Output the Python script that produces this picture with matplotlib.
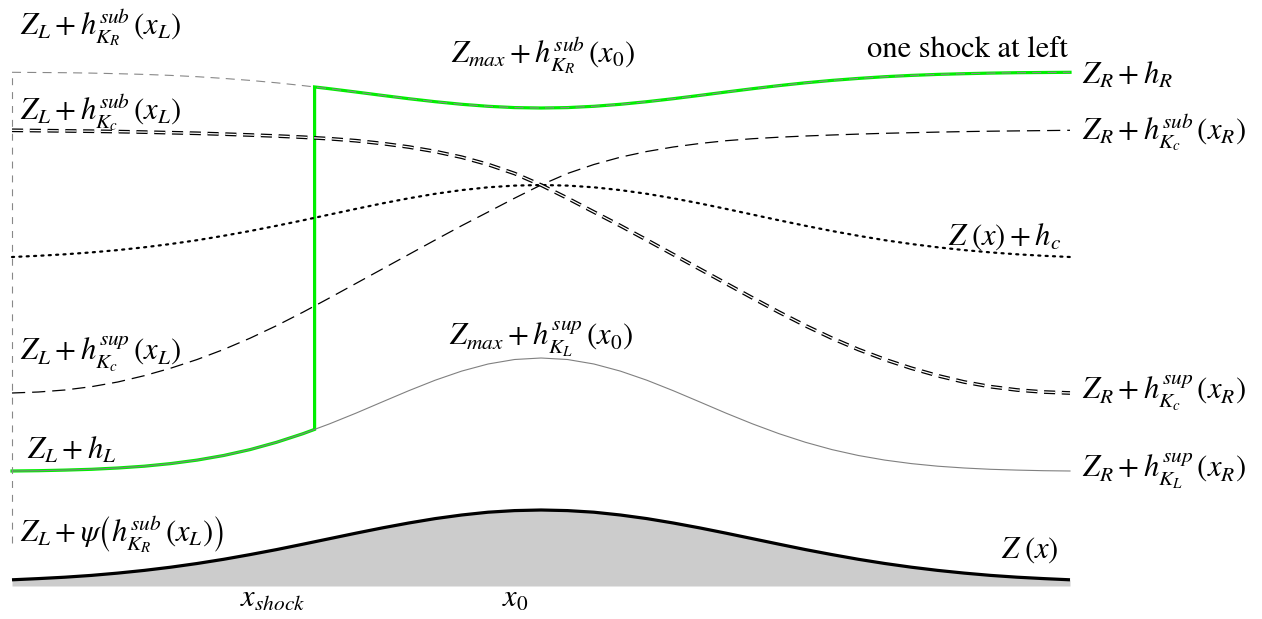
import numpy as np
import matplotlib
matplotlib.use("Agg")
import matplotlib.pyplot as plt

plt.rcParams['mathtext.fontset'] = 'stix'
plt.rcParams['font.family'] = ['STIXGeneral', 'DejaVu Serif']
plt.rcParams['lines.scale_dashes'] = False

# abscissa samples every 0.25 (x_L = 0, x_0 = 5, x_R = 10)
x = np.arange(41) * 0.25

# bottom topography Z(x)
Z = [0.32, 0.44, 0.58, 0.76, 0.99, 1.26, 1.58, 1.95, 2.37, 2.84,
     3.34, 3.88, 4.43, 4.98, 5.51, 6.00, 6.44, 6.80, 7.08, 7.24,
     7.30,
     7.24, 7.08, 6.80, 6.44, 6.00, 5.51, 4.98, 4.43, 3.88, 3.34,
     2.84, 2.37, 1.95, 1.58, 1.26, 0.99, 0.76, 0.58, 0.44, 0.32]

# subcritical free surface through Z_R + h_R
ZhR = [51.07, 51.05, 51.03, 50.99, 50.93, 50.86, 50.76, 50.63, 50.46, 50.26,
       50.02, 49.74, 49.43, 49.10, 48.76, 48.43, 48.13, 47.87, 47.67, 47.54,
       47.50,
       47.54, 47.67, 47.87, 48.13, 48.43, 48.76, 49.10, 49.43, 49.74, 50.02,
       50.26, 50.46, 50.63, 50.76, 50.86, 50.93, 50.99, 51.03, 51.05, 51.07]

# supercritical free surface through Z_L + h_L
ZhL = [11.20, 11.23, 11.29, 11.37, 11.50, 11.68, 11.94, 12.29, 12.75, 13.34,
       14.07, 14.93, 15.91, 16.98, 18.11, 19.23, 20.28, 21.19, 21.90, 22.35,
       22.50,
       22.35, 21.90, 21.19, 20.28, 19.23, 18.11, 16.98, 15.91, 14.93, 14.07,
       13.34, 12.75, 12.29, 11.94, 11.68, 11.50, 11.37, 11.29, 11.23, 11.20]

# critical level Z(x) + h_c
Zhc = [32.60, 32.72, 32.87, 33.06, 33.29, 33.57, 33.90, 34.28, 34.72, 35.20,
       35.72, 36.27, 36.84, 37.41, 37.96, 38.47, 38.92, 39.29, 39.57, 39.74,
       39.80,
       39.74, 39.57, 39.29, 38.92, 38.47, 37.96, 37.41, 36.84, 36.27, 35.72,
       35.20, 34.72, 34.28, 33.90, 33.57, 33.29, 33.06, 32.87, 32.72, 32.60]

# transcritical K_c curve, supercritical at left -> subcritical at right
Kc_sup_sub = [19.00, 19.10, 19.30, 19.63, 20.10, 20.73, 21.48, 22.35, 23.35, 24.48,
              25.73, 27.08, 28.50, 29.95, 31.40, 32.85, 34.30, 35.73, 37.10, 38.48,
              39.80,
              40.95, 41.85, 42.58, 43.15, 43.60, 43.95, 44.23, 44.43, 44.58, 44.70,
              44.80, 44.89, 44.97, 45.03, 45.09, 45.14, 45.18, 45.21, 45.24, 45.27]
# transcritical K_c curve, subcritical at left -> supercritical at right
Kc_sub_sup = Kc_sup_sub[::-1]

x_shock = 2.86
psi_level = 4.0

ZhL = np.array(ZhL)
ZhR = np.array(ZhR)

fig = plt.figure(figsize=(12.62, 6.19), dpi=100)
ax = fig.add_axes([0, 0, 1, 1])
ax.set_xlim(-0.1134, 11.8147)
ax.set_ylim(-3.6, 58.3)
ax.axis('off')

# topography
ax.fill_between(x, -0.3, Z, color='#cccccc', lw=0)
ax.plot(x, Z, color='black', lw=2.3, solid_capstyle='butt')

# solution with one shock: supercritical left, jump, subcritical right
left = x < x_shock
right = x > x_shock
y_low = np.interp(x_shock, x, ZhL)
y_high = np.interp(x_shock, x, ZhR)
sol_x = np.concatenate([x[left], [x_shock, x_shock], x[right]])
sol_y = np.concatenate([ZhL[left], [y_low, y_high], ZhR[right]])
ax.plot(sol_x, sol_y, color='#00ee00', lw=2.3, solid_joinstyle='miter')

ax.plot(x, ZhL, color='#808080', lw=0.8)
ax.plot(x, ZhR, color='#888888', lw=0.8, dashes=(6.5, 4.5))
ax.plot([x[0], x[0]], [psi_level, ZhR[0]], color='#888888', lw=0.8, dashes=(5, 5))

# critical level and transcritical curves
ax.plot(x, Zhc, color='black', lw=1.6, dashes=(1.5, 3.8), dash_capstyle='round')
ax.plot(x, Kc_sup_sub, color='black', lw=0.9, dashes=(9.5, 5))
ax.plot(x, Kc_sub_sup, color='black', lw=2.7, dashes=(8, 4.8))
ax.plot(x, Kc_sub_sup, color='white', lw=0.9, dashes=(8, 4.8))

fs = 22
# left labels
ax.text(0.08, 54.8, r'$Z_L+h^{sub}_{K_R}\,(x_L)$', fontsize=fs)
ax.text(0.08, 46.3, r'$Z_L+h^{sub}_{K_c}\,(x_L)$', fontsize=fs)
ax.text(0.08, 22.2, r'$Z_L+h^{sup}_{K_c}\,(x_L)$', fontsize=fs)
ax.text(0.14, 12.4, r'$Z_L+h_L$', fontsize=fs)
ax.text(0.08, 4.1, r'$Z_L+\psi\left(h^{sub}_{K_R}\,(x_L)\right)$', fontsize=fs)

# middle labels
ax.text(5.02, 52.0, r'$Z_{max}+h^{sub}_{K_R}\,(x_0)$', fontsize=fs, ha='center')
ax.text(5.0, 23.7, r'$Z_{max}+h^{sup}_{K_L}\,(x_0)$', fontsize=fs, ha='center')
ax.text(9.98, 52.6, 'one shock at left', fontsize=fs, ha='right')
ax.text(9.92, 33.8, r'$Z\;(x)+h_c$', fontsize=fs, ha='right')
ax.text(9.89, 2.5, r'$Z\;(x)$', fontsize=fs, ha='right')

# right labels
ax.text(10.11, 49.9, r'$Z_R+h_R$', fontsize=fs)
ax.text(10.11, 44.3, r'$Z_R+h^{sub}_{K_c}\,(x_R)$', fontsize=fs)
ax.text(10.11, 18.3, r'$Z_R+h^{sup}_{K_c}\,(x_R)$', fontsize=fs)
ax.text(10.11, 10.5, r'$Z_R+h^{sup}_{K_L}\,(x_R)$', fontsize=fs)

# abscissa labels
ax.text(x_shock - 0.09, -2.4, r'$x_{shock}$', fontsize=fs, ha='right')
ax.text(4.88, -2.4, r'$x_0$', fontsize=fs, ha='right')

fig.savefig('out.png', dpi=100)
